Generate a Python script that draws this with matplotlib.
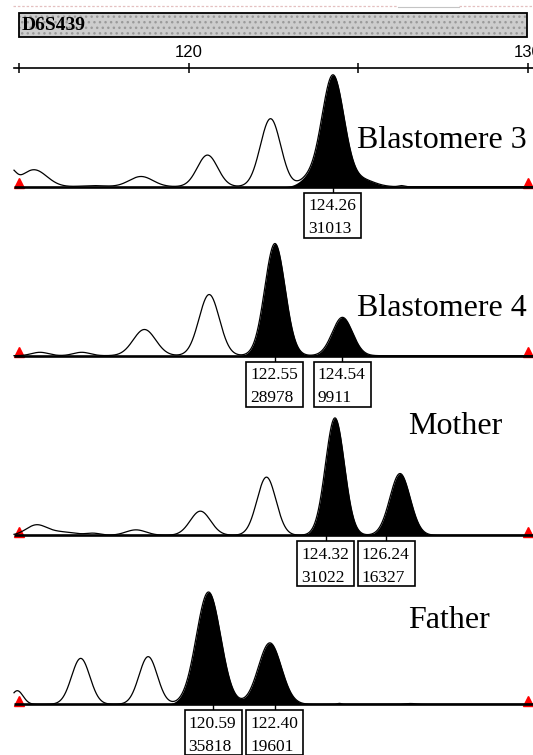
import numpy as np
import matplotlib.pyplot as plt
from matplotlib.patches import Rectangle

W, H = 533, 755

# size axis: pixel column of 120 bp and pixels per bp
X120 = 188.5
PX_PER_BP = 33.9

MARKER_TITLE = "D6S439"
SCALE_TICKS = [115, 120, 125, 130]
SCALE_LABELS = ["", "120", "", "130"]
SIZE_STANDARD = [115.0, 130.0]          # red internal-standard triangles

# ---- Blastomere 3 ----
b3_call_size = [124.26]
b3_call_height = [31013]
b3_call_sd = [0.33]
b3_minor_size = [114.75, 115.44, 117.2, 118.6, 120.56, 122.42, 123.5, 125.15, 126.28]
b3_minor_height = [4000, 4720, 300, 2840, 8790, 18900, 1700, 1800, 300]
b3_minor_sd = [0.15, 0.38, 0.35, 0.35, 0.3, 0.3, 0.25, 0.35, 0.08]
b3_minor_filled = [0, 0, 0, 0, 0, 0, 1, 1, 0]

# ---- Blastomere 4 ----
b4_call_size = [122.55, 124.54]
b4_call_height = [28978, 9911]
b4_call_sd = [0.3, 0.3]
b4_minor_size = [115.62, 116.85, 118.70, 120.61]
b4_minor_height = [880, 880, 6770, 15800]
b4_minor_sd = [0.25, 0.25, 0.33, 0.3]
b4_minor_filled = [0, 0, 0, 0]

# ---- Mother ----
mo_call_size = [124.32, 126.24]
mo_call_height = [31022, 16327]
mo_call_sd = [0.28, 0.3]
mo_minor_size = [115.5, 116.2, 117.2, 118.45, 120.35, 122.3]
mo_minor_height = [2520, 900, 500, 1440, 6380, 15370]
mo_minor_sd = [0.3, 0.45, 0.2, 0.3, 0.3, 0.28]
mo_minor_filled = [0, 0, 0, 0, 0, 0]

# ---- Father ----
fa_call_size = [120.59, 122.40]
fa_call_height = [35818, 19601]
fa_call_sd = [0.36, 0.34]
fa_minor_size = [114.95, 116.82, 118.81, 124.45, 126.55]
fa_minor_height = [4340, 14650, 15200, 300, 250]
fa_minor_sd = [0.17, 0.27, 0.27, 0.06, 0.15]
fa_minor_filled = [0, 0, 0, 0, 0]

lanes = [
    dict(name="Blastomere 3", base=186.7, top=75.1, title_xy=(527, 148), title_ha="right",
         call=(b3_call_size, b3_call_height, b3_call_sd), box_shift=[0],
         minor=(b3_minor_size, b3_minor_height, b3_minor_sd, b3_minor_filled)),
    dict(name="Blastomere 4", base=355.7, top=243.5, title_xy=(527, 316), title_ha="right",
         call=(b4_call_size, b4_call_height, b4_call_sd), box_shift=[0, 0],
         minor=(b4_minor_size, b4_minor_height, b4_minor_sd, b4_minor_filled)),
    dict(name="Mother", base=535.3, top=417.9, title_xy=(408, 434), title_ha="left",
         call=(mo_call_size, mo_call_height, mo_call_sd), box_shift=[-9, -14],
         minor=(mo_minor_size, mo_minor_height, mo_minor_sd, mo_minor_filled)),
    dict(name="Father", base=704.3, top=592.0, title_xy=(408, 628), title_ha="left",
         call=(fa_call_size, fa_call_height, fa_call_sd), box_shift=[4.5, 5],
         minor=(fa_minor_size, fa_minor_height, fa_minor_sd, fa_minor_filled)),
]


def px_to_bp(px):
    return 120 + (px - X120) / PX_PER_BP


def peak(x, mu, h, sd):
    return h * np.exp(-0.5 * ((x - mu) / sd) ** 2)


plt.rcParams["font.family"] = ["Liberation Serif", "DejaVu Serif"]
fig = plt.figure(figsize=(W / 100, H / 100), dpi=100)

# page layer in pixel units (header bar, lane names)
page = fig.add_axes([0, 0, 1, 1])
page.set_xlim(0, W)
page.set_ylim(H, 0)
page.axis("off")

page.plot([13, 398], [5.8, 5.8], color="#e4c0c0", lw=0.9, ls=(0, (2, 1.5)))
page.plot([459, 533], [5.8, 5.8], color="#e4c0c0", lw=0.9, ls=(0, (2, 1.5)))
page.plot([398, 459], [6.8, 6.8], color="#c4c4c4", lw=0.8)

page.add_patch(Rectangle((18.7, 12.9), 508.3, 23.8, facecolor="#cdcdcd",
                         edgecolor="#9a9a9a", hatch="...", lw=0))
page.add_patch(Rectangle((18.7, 12.9), 508.3, 23.8, fill=False, edgecolor="black", lw=1.3))
page.text(22, 30, MARKER_TITLE, fontsize=14, fontweight="bold", va="baseline")

for lane in lanes:
    tx, ty = lane["title_xy"]
    page.text(tx, ty, lane["name"], fontsize=23, ha=lane["title_ha"], va="baseline")

# size scale
left_px = 13.6
sc = fig.add_axes([left_px / W, 1 - 68 / H, (W - left_px) / W, 1e-4])
sc.set_xlim(px_to_bp(left_px), px_to_bp(W))
for s in ["left", "right", "bottom"]:
    sc.spines[s].set_visible(False)
sc.spines["top"].set_linewidth(1.2)
sc.xaxis.tick_top()
sc.set_xticks(SCALE_TICKS, SCALE_LABELS)
sc.tick_params(axis="x", direction="inout", length=7.5, width=1.1, pad=2,
               labelsize=12, labelfontfamily="Liberation Sans")
sc.set_yticks([])
sc.patch.set_visible(False)

x = np.linspace(px_to_bp(14), px_to_bp(W), 3000)
box_w, box_h, box_gap = 57, 45, 6

for lane in lanes:
    base = lane["base"]
    sizes, heights, sds = lane["call"]
    k = max(heights) / (base - lane["top"])      # RFU per pixel
    ax = fig.add_axes([0, 1 - (base + 60) / H, 1, 185 / H])
    ax.set_xlim(px_to_bp(0), px_to_bp(W))
    ax.set_ylim(-60 * k, 125 * k)
    ax.axis("off")

    called = np.zeros_like(x)
    for mu, h, sd in zip(sizes, heights, sds):
        called += peak(x, mu, h, sd)
    total = called.copy()
    m_size, m_height, m_sd, m_fill = lane["minor"]
    for mu, h, sd, f in zip(m_size, m_height, m_sd, m_fill):
        p = peak(x, mu, h, sd)
        total += p
        if f:
            called += p

    ax.fill_between(x, 0, called, color="black", lw=0, zorder=2)
    ax.plot(x, total, color="black", lw=0.9, zorder=3)
    ax.plot([x[0], x[-1]], [0, 0], color="black", lw=1.9, solid_capstyle="butt", zorder=3)
    ax.plot(SIZE_STANDARD, [3.5 * k] * 2, ls="none", marker="^", ms=6.5,
            color="red", zorder=1.5, clip_on=False)

    # allele call boxes: size and height
    for mu, h, shift in zip(sizes, heights, lane["box_shift"]):
        cx = mu + shift / PX_PER_BP
        ax.plot([cx, cx], [0, -box_gap * k], color="black", lw=1.0, zorder=3)
        ax.add_patch(Rectangle((cx - box_w / 2 / PX_PER_BP, -(box_gap + box_h) * k),
                               box_w / PX_PER_BP, box_h * k, facecolor="white",
                               edgecolor="black", lw=1.2, zorder=4))
        ax.text(cx - (box_w / 2 - 4) / PX_PER_BP, -(box_gap + 5.5) * k,
                f"{mu:.2f}\n{h}", ha="left", va="top", fontsize=12.5,
                linespacing=1.6, zorder=5)

fig.savefig("out.png", dpi=100)
